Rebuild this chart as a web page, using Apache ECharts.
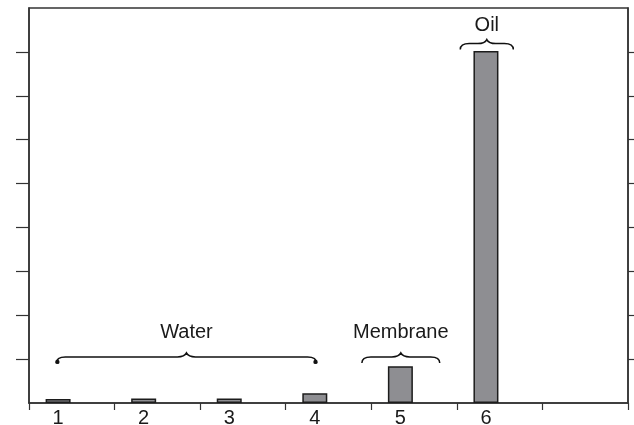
<!DOCTYPE html>
<html>
<head>
<meta charset="utf-8">
<script src="https://cdn.jsdelivr.net/npm/echarts@6/dist/echarts.min.js"></script>
<style>html,body{margin:0;padding:0;background:#fff}#c{width:634px;height:425px}</style>
</head>
<body>
<div id="c"></div>
<script>
// data
const categories = [1, 2, 3, 4, 5, 6];
const values = [0.9, 1.05, 1.05, 2.2, 8.4, 80.2];
const yTicks = [10, 20, 30, 40, 50, 60, 70, 80];
const xTicks = [0.66, 1.66, 2.66, 3.66, 4.66, 5.66, 6.66, 7.66];
const groupNames = ['Water', 'Membrane', 'Oil'];
const groupStart = [0.98, 4.55, 5.70];
const groupEnd = [4.02, 5.46, 6.32];
const braceLevel = [10.5, 10.5, 81.9];
const labelLevel = [16.0, 16.0, 86.0];

const FONT = "'Liberation Sans', Arial, sans-serif";
const LINE = '#333';

const chart = echarts.init(document.getElementById('c'));

const braceData = groupNames.map((n, i) => [groupStart[i], groupEnd[i], braceLevel[i], labelLevel[i], n]);

chart.setOption({
  animation: false,
  backgroundColor: '#fff',
  grid: { left: 29, right: 6, top: 8, bottom: 22, show: true, borderColor: LINE, borderWidth: 1.5,
    containLabel: false, outerBoundsMode: 'none' },
  xAxis: [{
    type: 'value', min: 0.66, max: 7.66, position: 'bottom',
    splitLine: { show: false },
    axisLine: { show: true, lineStyle: { color: LINE, width: 1.5 } },
    axisTick: { show: true, inside: false, length: 7, customValues: xTicks, lineStyle: { color: LINE, width: 1.2 } },
    axisLabel: { show: true, customValues: categories, margin: 5, fontSize: 20, color: '#1a1a1a', fontFamily: FONT,
      formatter: v => String(Math.round(v)) }
  }],
  yAxis: [{
    type: 'value', min: 0, max: 90, interval: 10, position: 'left',
    splitLine: { show: false },
    axisLine: { show: true, lineStyle: { color: LINE, width: 1.5 } },
    axisTick: { show: true, inside: false, length: 13, customValues: yTicks, lineStyle: { color: LINE, width: 1.2 } },
    axisLabel: { show: false }
  }, {
    type: 'value', min: 0, max: 90, interval: 10, position: 'right',
    splitLine: { show: false },
    axisLine: { show: true, lineStyle: { color: LINE, width: 1.5 } },
    axisTick: { show: true, inside: false, length: 6, customValues: yTicks, lineStyle: { color: LINE, width: 1.2 } },
    axisLabel: { show: false }
  }],
  series: [{
    type: 'bar',
    data: categories.map((c, i) => [c, values[i]]),
    barWidth: 25,
    itemStyle: { color: '#8e8e92', borderColor: '#1c1c1c', borderWidth: 1.5 }
  }, {
    type: 'custom',
    data: braceData,
    silent: true,
    renderItem: function (params, api) {
      const p1 = api.coord([api.value(0), api.value(2)]);
      const p2 = api.coord([api.value(1), api.value(2)]);
      const pt = api.coord([(api.value(0) + api.value(1)) / 2, api.value(3)]);
      const x1 = p1[0], x2 = p2[0], y = p1[1], m = (x1 + x2) / 2;
      const d = 6, h = 4, r = 9;
      const path = `M${x1} ${y + d} Q${x1} ${y} ${x1 + r} ${y} L${m - r} ${y} Q${m - 2} ${y} ${m} ${y - h} Q${m + 2} ${y} ${m + r} ${y} L${x2 - r} ${y} Q${x2} ${y} ${x2} ${y + d}`;
      const children = [{
        type: 'path',
        shape: { pathData: path },
        style: { fill: null, stroke: '#111', lineWidth: 1.5 }
      }, {
        type: 'text',
        x: pt[0], y: pt[1],
        style: { text: braceData[params.dataIndex][4], fill: '#1a1a1a', font: `20px ${FONT}`, align: 'center', verticalAlign: 'middle' }
      }];
      if (params.dataIndex === 0) {
        children.push({ type: 'circle', shape: { cx: x1 + 1, cy: y + d - 1, r: 2.2 }, style: { fill: '#111' } });
        children.push({ type: 'circle', shape: { cx: x2 - 1, cy: y + d - 1, r: 2.2 }, style: { fill: '#111' } });
      }
      return { type: 'group', children };
    }
  }]
});
</script>
</body>
</html>
